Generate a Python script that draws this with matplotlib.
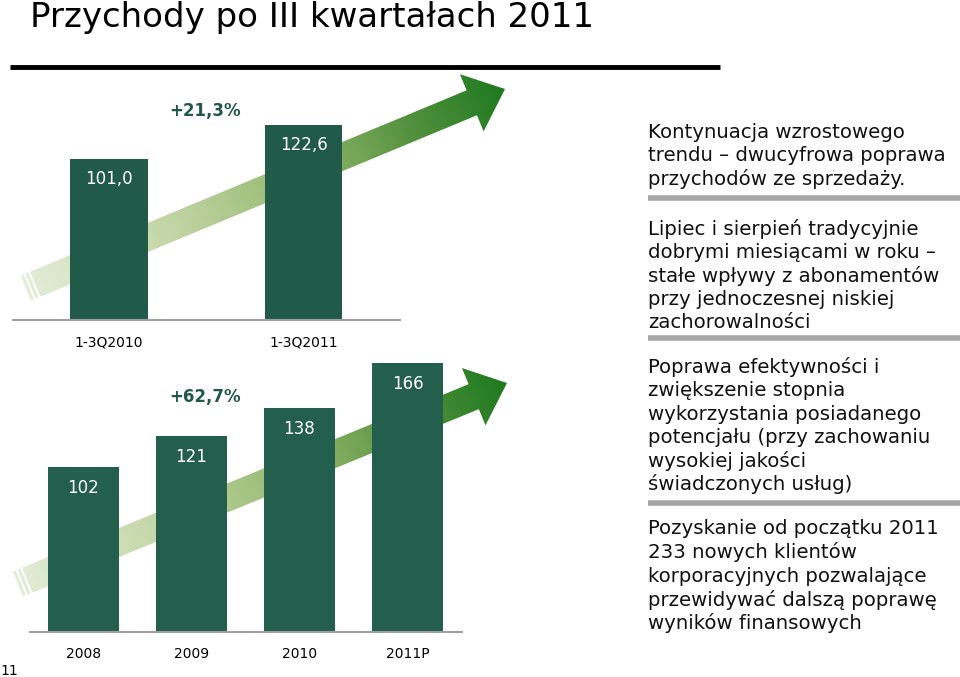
import numpy as np
import matplotlib
matplotlib.use("Agg")
import matplotlib.pyplot as plt
from matplotlib.patches import Polygon
from matplotlib.colors import LinearSegmentedColormap

# data
top_cats = ["1-3Q2010", "1-3Q2011"]
top_vals = [101.0, 122.6]
top_labels = ["101,0", "122,6"]
top_growth = "+21,3%"

bot_cats = ["2008", "2009", "2010", "2011P"]
bot_vals = [102, 121, 138, 166]
bot_labels = ["102", "121", "138", "166"]
bot_growth = "+62,7%"

title = "Przychody po III kwartałach 2011"
page_no = "11"
notes = [
    ["Kontynuacja wzrostowego", "trendu \u2013 dwucyfrowa poprawa", "przychodów ze sprzedaży."],
    ["Lipiec i sierpień tradycyjnie", "dobrymi miesiącami w roku \u2013",
     "stałe wpływy z abonamentów", "przy jednoczesnej niskiej", "zachorowalności"],
    ["Poprawa efektywności i", "zwiększenie stopnia", "wykorzystania posiadanego",
     "potencjału (przy zachowaniu", "wysokiej jakości", "świadczonych usług)"],
    ["Pozyskanie od początku 2011", "233 nowych klientów",
     "korporacyjnych pozwalające", "przewidywać dalszą poprawę", "wyników finansowych"],
]

W, H = 960, 677
bar_color = "#215a48"
text_green = "#21584a"

fig = plt.figure(figsize=(W / 100, H / 100), dpi=100)

# background axes in pixel coordinates
bg = fig.add_axes([0, 0, 1, 1], zorder=0)
bg.set_xlim(0, W)
bg.set_ylim(H, 0)
bg.axis("off")

cmap = LinearSegmentedColormap.from_list(
    "arr", [(0, "#e4ecd8"), (0.3, "#c3d6a6"), (0.6, "#8fb468"), (0.82, "#4f8f3c"), (1, "#1f7a1f")])


def draw_arrow(tail, tip, w=27, hw=62, hl=36):
    t = np.array(tail, float)
    p = np.array(tip, float)
    L = np.linalg.norm(p - t)
    u = (p - t) / L
    n = np.array([-u[1], u[0]])
    b = p - hl * u
    pts = [t + n * w / 2, b + n * w / 2, b + n * hw / 2, p,
           b - n * hw / 2, b - n * w / 2, t - n * w / 2]
    poly = Polygon(pts, closed=True, facecolor="none", edgecolor="none")
    bg.add_patch(poly)
    xs = np.linspace(t[0] - 40, p[0] + 10, 400)
    ys = np.linspace(p[1] - 50, t[1] + 40, 300)
    X, Y = np.meshgrid(xs, ys)
    g = ((X - t[0]) * u[0] + (Y - t[1]) * u[1]) / L
    im = bg.imshow(np.clip(g, 0, 1), cmap=cmap, vmin=0, vmax=1, origin="upper",
                   extent=(xs[0], xs[-1], ys[-1], ys[0]), aspect="auto", zorder=1)
    im.set_clip_path(poly)
    # light stripes at the tail
    for off in (4, 9):
        c = t + off * u
        a = c + n * w / 2
        d = c - n * w / 2
        bg.plot([a[0], d[0]], [a[1], d[1]], color="white", lw=1.4, zorder=2)


draw_arrow((26, 288), (505, 89))
draw_arrow((18, 584), (507, 383))
bg.set_xlim(0, W)
bg.set_ylim(H, 0)

# title and rule
bg.text(30, 27, title, fontsize=24.5, family="DejaVu Sans",
        va="baseline", ha="left", color="black")
bg.plot([10, 720], [67, 67], color="black", lw=3.5, solid_capstyle="butt")
bg.text(0, 671, page_no, fontsize=10, va="center", ha="left", color="black")

# right notes
block_y = [132, 229, 367, 529]
sep_y = [198, 338, 503]
for lines, y0 in zip(notes, block_y):
    for i, line in enumerate(lines):
        bg.text(648, y0 + i * 23.5, line, fontsize=14.2, va="center", ha="left",
                color="#111111", family="DejaVu Sans")
for y in sep_y:
    bg.plot([648, 960], [y, y], color="#a6a6a6", lw=4, solid_capstyle="butt")


def bar_axes(left, right, base, ymax, scale):
    h = ymax * scale
    ax = fig.add_axes([left / W, (H - base) / H, (right - left) / W, h / H], zorder=2)
    ax.patch.set_alpha(0)
    for s in ax.spines.values():
        s.set_visible(False)
    ax.set_ylim(0, ymax)
    ax.set_yticks([])
    ax.axhline(0, color="#a0a0a0", lw=1.5, clip_on=False)
    ax.tick_params(axis="x", length=0, pad=11, labelsize=10)
    return ax


# top chart
ax1 = bar_axes(13, 400, 320, 160, 1.594)
ax1.bar(range(len(top_vals)), top_vals, width=0.40, color=bar_color)
ax1.set_xlim(-0.494, 1.496)
ax1.set_xticks(range(len(top_cats)), top_cats)
for i, (v, s) in enumerate(zip(top_vals, top_labels)):
    ax1.annotate(s, (i, v), xytext=(0, -20), textcoords="offset pixels",
                 ha="center", va="center", color="white", fontsize=12)
bg.text(205, 111, top_growth, fontsize=12, fontweight="bold", color=text_green,
        ha="center", va="center")

# bottom chart
ax2 = bar_axes(30, 462, 632, 180, 1.62)
ax2.bar(range(len(bot_vals)), bot_vals, width=0.66, color="#245e4c")
ax2.set_xlim(-0.495, 3.505)
ax2.set_xticks(range(len(bot_cats)), bot_cats)
for i, (v, s) in enumerate(zip(bot_vals, bot_labels)):
    ax2.annotate(s, (i, v), xytext=(0, -21), textcoords="offset pixels",
                 ha="center", va="center", color="white", fontsize=12)
bg.text(205, 397, bot_growth, fontsize=12, fontweight="bold", color=text_green,
        ha="center", va="center")

fig.savefig("out.png", dpi=100)
